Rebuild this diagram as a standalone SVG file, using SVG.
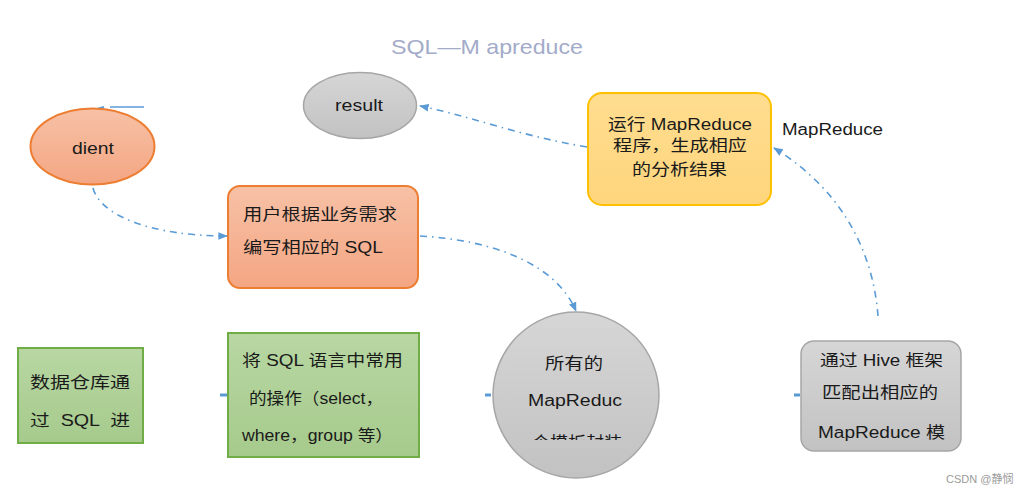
<svg xmlns="http://www.w3.org/2000/svg" width="1029" height="495" viewBox="0 0 1029 495">
<style>
text{font-family:"Liberation Sans","Noto Sans CJK SC",sans-serif;fill:#1a1a1a;}
.t15{font-size:16px;}
.conn{fill:none;stroke:#5b9bd5;stroke-width:1.6;stroke-dasharray:7 5 1.5 5;}
</style>
<defs>
<linearGradient id="gOr" x1="0" y1="0" x2="0" y2="1"><stop offset="0" stop-color="#f7c1a6"/><stop offset="1" stop-color="#f4a683"/></linearGradient>
<linearGradient id="gGr" x1="0" y1="0" x2="0" y2="1"><stop offset="0" stop-color="#d6d6d6"/><stop offset="1" stop-color="#c2c2c2"/></linearGradient>
<linearGradient id="gYe" x1="0" y1="0" x2="0" y2="1"><stop offset="0" stop-color="#ffdd90"/><stop offset="1" stop-color="#fed57c"/></linearGradient>
<linearGradient id="gGn" x1="0" y1="0" x2="0" y2="1"><stop offset="0" stop-color="#b8d7a3"/><stop offset="1" stop-color="#a6ca8c"/></linearGradient>
<marker id="ah" viewBox="0 0 10 10" refX="9" refY="5" markerWidth="6" markerHeight="6" orient="auto"><path d="M0,1 L10,5 L0,9 z" fill="#5b9bd5"/></marker>
<clipPath id="cc"><rect x="480" y="300" width="200" height="140"/></clipPath>
</defs>
<text x="391" y="54" textLength="192" lengthAdjust="spacingAndGlyphs" style="font-size:21px;fill:#a3abc9">SQL—M apreduce</text>
<g id="connectors">
<line x1="110" y1="107" x2="144" y2="107" stroke="#5b9bd5" stroke-width="1.5"/>
<path d="M104 107 L97 109" stroke="#5b9bd5" stroke-width="2" fill="none"/>
<path class="conn" d="M93 188 C100 215, 150 236, 227 236" marker-end="url(#ah)"/>
<path class="conn" d="M420 236 C490 240, 555 262, 576 311" marker-end="url(#ah)"/>
<path class="conn" d="M587 147 C520 136, 470 116, 420 106" marker-end="url(#ah)"/>
<path class="conn" d="M878 316 C874 262, 850 195, 774 148" marker-end="url(#ah)"/>
<path d="M220 395 L227 395" stroke="#5b9bd5" stroke-width="3"/>
<path d="M485 395 L491 395" stroke="#5b9bd5" stroke-width="3"/>
<path d="M794 395 L800 395" stroke="#5b9bd5" stroke-width="3"/>
</g>
<g id="client">
<ellipse cx="92.5" cy="146.5" rx="62" ry="38" fill="url(#gOr)" stroke="#ed7d31" stroke-width="2"/>
<text x="72" y="154" class="t15" textLength="42" lengthAdjust="spacingAndGlyphs">dient</text>
</g>
<g id="result">
<ellipse cx="360" cy="105.5" rx="56.5" ry="33" fill="url(#gGr)" stroke="#a6a6a6" stroke-width="1.5"/>
<text x="335" y="111" class="t15" textLength="48" lengthAdjust="spacingAndGlyphs">result</text>
</g>
<g id="run-mapreduce">
<rect x="588" y="93" width="183" height="112" rx="14" fill="url(#gYe)" stroke="#ffc000" stroke-width="2"/>
<text x="608" y="130" class="t15" textLength="144" lengthAdjust="spacingAndGlyphs">运行 MapReduce</text>
<text x="613" y="151" class="t15" textLength="134" lengthAdjust="spacingAndGlyphs">程序，生成相应</text>
<text x="632" y="175" class="t15" textLength="95" lengthAdjust="spacingAndGlyphs">的分析结果</text>
</g>
<text x="782" y="135" class="t15" textLength="101" lengthAdjust="spacingAndGlyphs">MapReduce</text>
<g id="user-sql">
<rect x="228" y="186" width="190" height="102" rx="12" fill="url(#gOr)" stroke="#ed7d31" stroke-width="2"/>
<text x="243" y="220" class="t15" textLength="154" lengthAdjust="spacingAndGlyphs">用户根据业务需求</text>
<text x="243" y="253" class="t15" textLength="140" lengthAdjust="spacingAndGlyphs">编写相应的 SQL</text>
</g>
<g id="warehouse">
<rect x="18" y="348" width="125" height="95" fill="url(#gGn)" stroke="#70ad47" stroke-width="2"/>
<text x="30" y="388" class="t15" textLength="100" lengthAdjust="spacingAndGlyphs">数据仓库通</text>
<text x="30" y="426" class="t15" xml:space="preserve" textLength="100" lengthAdjust="spacingAndGlyphs">过  SQL  进</text>
</g>
<g id="sql-ops">
<rect x="228" y="333" width="191" height="124" fill="url(#gGn)" stroke="#70ad47" stroke-width="2"/>
<text x="242" y="366" class="t15" textLength="161" lengthAdjust="spacingAndGlyphs">将 SQL 语言中常用</text>
<text x="249" y="404" class="t15" textLength="134" lengthAdjust="spacingAndGlyphs">的操作（select，</text>
<text x="242" y="441" class="t15" textLength="151" lengthAdjust="spacingAndGlyphs">where，group 等）</text>
</g>
<g id="templates">
<circle cx="576" cy="395" r="83" fill="url(#gGr)" stroke="#a6a6a6" stroke-width="1.5"/>
<text x="545" y="369" class="t15" textLength="58" lengthAdjust="spacingAndGlyphs">所有的</text>
<text x="528" y="406" class="t15" textLength="94" lengthAdjust="spacingAndGlyphs">MapReduc</text>
<g clip-path="url(#cc)"><text x="532" y="448" class="t15" textLength="90" lengthAdjust="spacingAndGlyphs">个模板封装</text></g>
</g>
<g id="hive">
<rect x="801" y="341" width="160" height="110" rx="13" fill="url(#gGr)" stroke="#a6a6a6" stroke-width="1.5"/>
<text x="820" y="366" class="t15" textLength="123" lengthAdjust="spacingAndGlyphs">通过 Hive 框架</text>
<text x="822" y="398" class="t15" textLength="116" lengthAdjust="spacingAndGlyphs">匹配出相应的</text>
<text x="818" y="438" class="t15" textLength="127" lengthAdjust="spacingAndGlyphs">MapReduce 模</text>
</g>
<text x="946" y="483" style="font-size:11px;fill:#9a9a9a">CSDN @静悯</text>
</svg>
